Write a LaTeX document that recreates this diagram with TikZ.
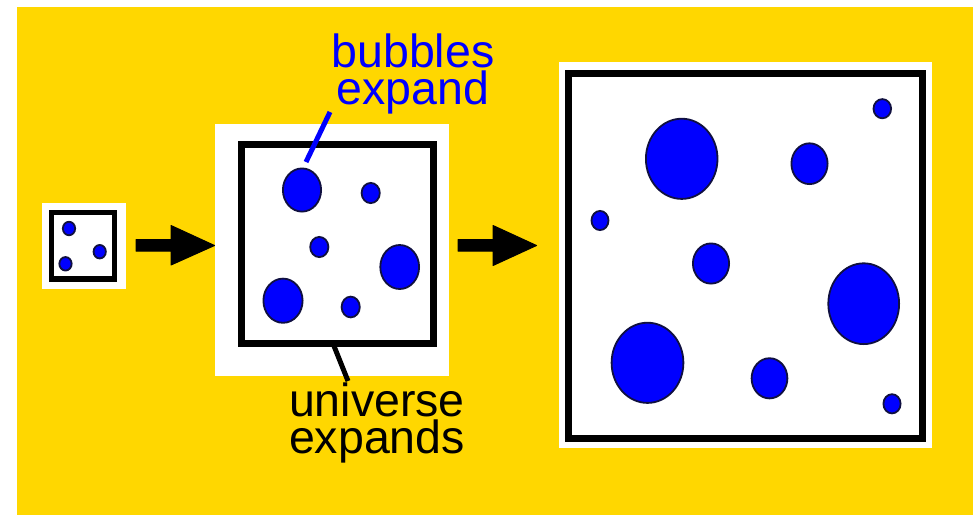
\documentclass[tikz,border=0pt]{standalone}
\usepackage{fontspec}
\setmainfont{Liberation Sans}
\usetikzlibrary{shapes.geometric}
\definecolor{gold}{HTML}{FFD700}
\definecolor{bubedge}{HTML}{101040}
\tikzset{
  bub/.style 2 args={ellipse, draw=bubedge, line width=1.8pt, fill=blue, inner sep=0pt,
    minimum width=#1pt, minimum height=#2pt},
  whitebox/.style={fill=white, draw=none},
  framebox/.style={draw=black, line width=7pt},
  arrowshape/.style={fill=black, draw=black, line width=1pt, line join=round},
  lbl/.style={font=\fontsize{46.5}{37}\selectfont, align=center, inner sep=0pt, anchor=base},
  pointer/.style={line width=5pt}
}
\begin{document}
\begin{tikzpicture}[x=1pt,y=-1pt]
\useasboundingbox (0,0) rectangle (973,515);
\fill[gold] (17,7) rectangle (973,515);

% small universe
\fill[whitebox] (41.7,202.7) rectangle (125.7,289);
\draw[framebox, line width=5.3pt] (51.5,212.8) rectangle (114.8,279);
\node[bub={12.3}{13.5}] (s1) at (69,228.5) {};
\node[bub={12.3}{13.5}] (s2) at (99.7,251.7) {};
\node[bub={12.3}{13.5}] (s3) at (65.5,263.8) {};

% arrow 1
\fill[arrowshape] (136,239.5) -- (171,239.5) -- (171,225.5) -- (214.5,245.5) -- (171,265) -- (171,251) -- (136,251) -- cycle;

% medium universe
\fill[whitebox] (215,124) rectangle (449,376);
\draw[framebox] (241.5,144.5) rectangle (433,343);
\node[bub={38.2}{43.2}] (m1) at (302,190) {};
\node[bub={18.2}{20.2}] (m2) at (370.7,193) {};
\node[bub={18.2}{20.2}] (m3) at (319.3,247) {};
\node[bub={38.8}{44}] (m4) at (399.7,267) {};
\node[bub={39.2}{44.2}] (m5) at (283,300.7) {};
\node[bub={18.2}{20.8}] (m6) at (350.7,307) {};

% arrow 2
\fill[arrowshape] (458,239.5) -- (493,239.5) -- (493,225.5) -- (536.5,245.5) -- (493,265.5) -- (493,251) -- (458,251) -- cycle;

% large universe
\fill[whitebox] (559,62) rectangle (932,448);
\draw[framebox] (568.5,73.5) rectangle (922.5,438.5);
\node[bub={71.6}{80.2}] (l1) at (681.7,158.8) {};
\node[bub={36.2}{40.8}] (l2) at (809.5,163.7) {};
\node[bub={17.6}{19.2}] (l3) at (882.3,108.7) {};
\node[bub={17}{19.2}] (l4) at (600,220.5) {};
\node[bub={36.2}{40.2}] (l5) at (711,263.5) {};
\node[bub={70.8}{80.8}] (l6) at (863.7,303.7) {};
\node[bub={71.8}{80.2}] (l7) at (647.5,362.8) {};
\node[bub={35.8}{40.2}] (l8) at (769.5,378.3) {};
\node[bub={17.2}{19.2}] (l9) at (892,403.8) {};

% labels
\node[lbl, text=blue] (bublbl) at (413,104) {bubbles\\expand};
\node[lbl, text=black] (unilbl) at (377,453) {universe\\expands};
\coordinate (bubtip) at (330,112);
\coordinate (bubend) at (306,162);
\coordinate (unitip) at (348,381);
\coordinate (uniend) at (332,341);
\draw[pointer, blue] (bubtip) -- (bubend);
\draw[pointer, black] (uniend) -- (unitip);
\end{tikzpicture}
\end{document}
